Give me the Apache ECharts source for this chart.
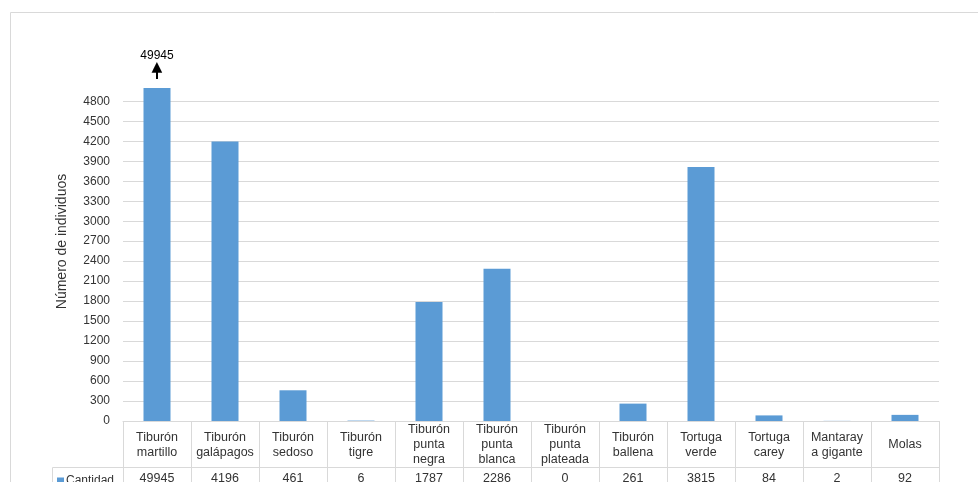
<!DOCTYPE html>
<html>
<head>
<meta charset="utf-8">
<script src="https://cdn.jsdelivr.net/npm/echarts@6/dist/echarts.min.js"></script>
<style>
  html, body { margin: 0; padding: 0; background: #fff; }
  #chart { width: 978px; height: 482px; }
</style>
</head>
<body>
<div id="chart"></div>
<script>
// categorías (tal como aparecen en la tabla, con saltos de línea)
const especies = [
  'Tiburón\nmartillo', 'Tiburón\ngalápagos', 'Tiburón\nsedoso', 'Tiburón\ntigre',
  'Tiburón\npunta\nnegra', 'Tiburón\npunta\nblanca', 'Tiburón\npunta\nplateada',
  'Tiburón\nballena', 'Tortuga\nverde', 'Tortuga\ncarey', 'Mantaray\na gigante', 'Molas'
]
// número de individuos
const cantidad = [49945, 4196, 461, 6, 1787, 2286, 0, 261, 3815, 84, 2, 92]

const textColor = '#333'
const lineColor = '#d9d9d9'
const font = 'Liberation Sans, Arial, sans-serif'

const chart = echarts.init(document.getElementById('chart'))

const seriesData = cantidad.map((v, i) => {
  if (i !== 0) return v
  // la barra sale del eje, se marca con flecha y valor
  return {
    value: v,
    label: {
      show: true,
      position: 'top',
      distance: 9,
      formatter: p => '{n|' + p.value + '}\n{h|▲}\n{s| }',
      rich: {
        n: { fontSize: 12, color: '#000', fontFamily: font, lineHeight: 14 },
        h: { fontSize: 14, color: '#000', fontFamily: 'DejaVu Sans', lineHeight: 8 },
        s: { width: 2, height: 8, lineHeight: 8, fontSize: 1, backgroundColor: '#000' }
      }
    }
  }
})

chart.setOption({
  animation: false,
  textStyle: { fontFamily: font, color: textColor },
  grid: { left: 123, right: 39, top: 88, bottom: 61, containLabel: false, outerBoundsMode: 'none' },
  legend: {
    left: 52,
    top: 470,
    icon: 'rect',
    itemWidth: 7,
    itemHeight: 7,
    itemGap: 4,
    textStyle: { fontSize: 12, color: textColor, fontFamily: font, padding: [0, 0, 0, -3] },
    data: ['Cantidad']
  },
  graphic: [
    // borde exterior del gráfico
    { type: 'rect', shape: { x: 10.5, y: 12.5, width: 1000, height: 500 },
      style: { fill: null, stroke: lineColor, lineWidth: 1 }, silent: true },
    // celda de la leyenda en la tabla
    { type: 'polyline', shape: { points: [[52.5, 490], [52.5, 467.5], [123, 467.5]] },
      style: { fill: null, stroke: lineColor, lineWidth: 1 }, silent: true }
  ],
  xAxis: [
    {
      type: 'category',
      data: especies,
      position: 'bottom',
      axisLine: { show: true, lineStyle: { color: lineColor } },
      axisTick: { show: true, length: 70, lineStyle: { color: lineColor } },
      axisLabel: {
        interval: 0,
        margin: 24,
        verticalAlign: 'middle',
        lineHeight: 15,
        fontSize: 12.5,
        color: textColor
      },
      splitLine: { show: false }
    },
    {
      type: 'category',
      data: especies,
      position: 'bottom',
      offset: 46,
      axisLine: { show: true, lineStyle: { color: lineColor } },
      axisTick: { show: false },
      axisLabel: {
        interval: 0,
        margin: 12,
        verticalAlign: 'middle',
        fontSize: 12.5,
        color: textColor,
        formatter: (v, i) => String(cantidad[i])
      }
    }
  ],
  yAxis: {
    type: 'value',
    min: 0,
    max: 5000,
    interval: 300,
    name: 'Número de individuos',
    nameLocation: 'middle',
    nameGap: 54,
    nameTextStyle: { fontSize: 14, color: textColor, fontFamily: font, padding: [0, 0, 0, 26] },
    axisLine: { show: false },
    axisTick: { show: false },
    axisLabel: { margin: 13, fontSize: 12, color: textColor, showMaxLabel: false, formatter: v => String(v) },
    splitLine: { show: true, showMaxLine: false, lineStyle: { color: lineColor, width: 1 } }
  },
  series: [
    {
      name: 'Cantidad',
      type: 'bar',
      data: seriesData,
      barWidth: 27,
      clip: true,
      itemStyle: { color: '#5b9bd5' }
    }
  ]
})
</script>
</body>
</html>
